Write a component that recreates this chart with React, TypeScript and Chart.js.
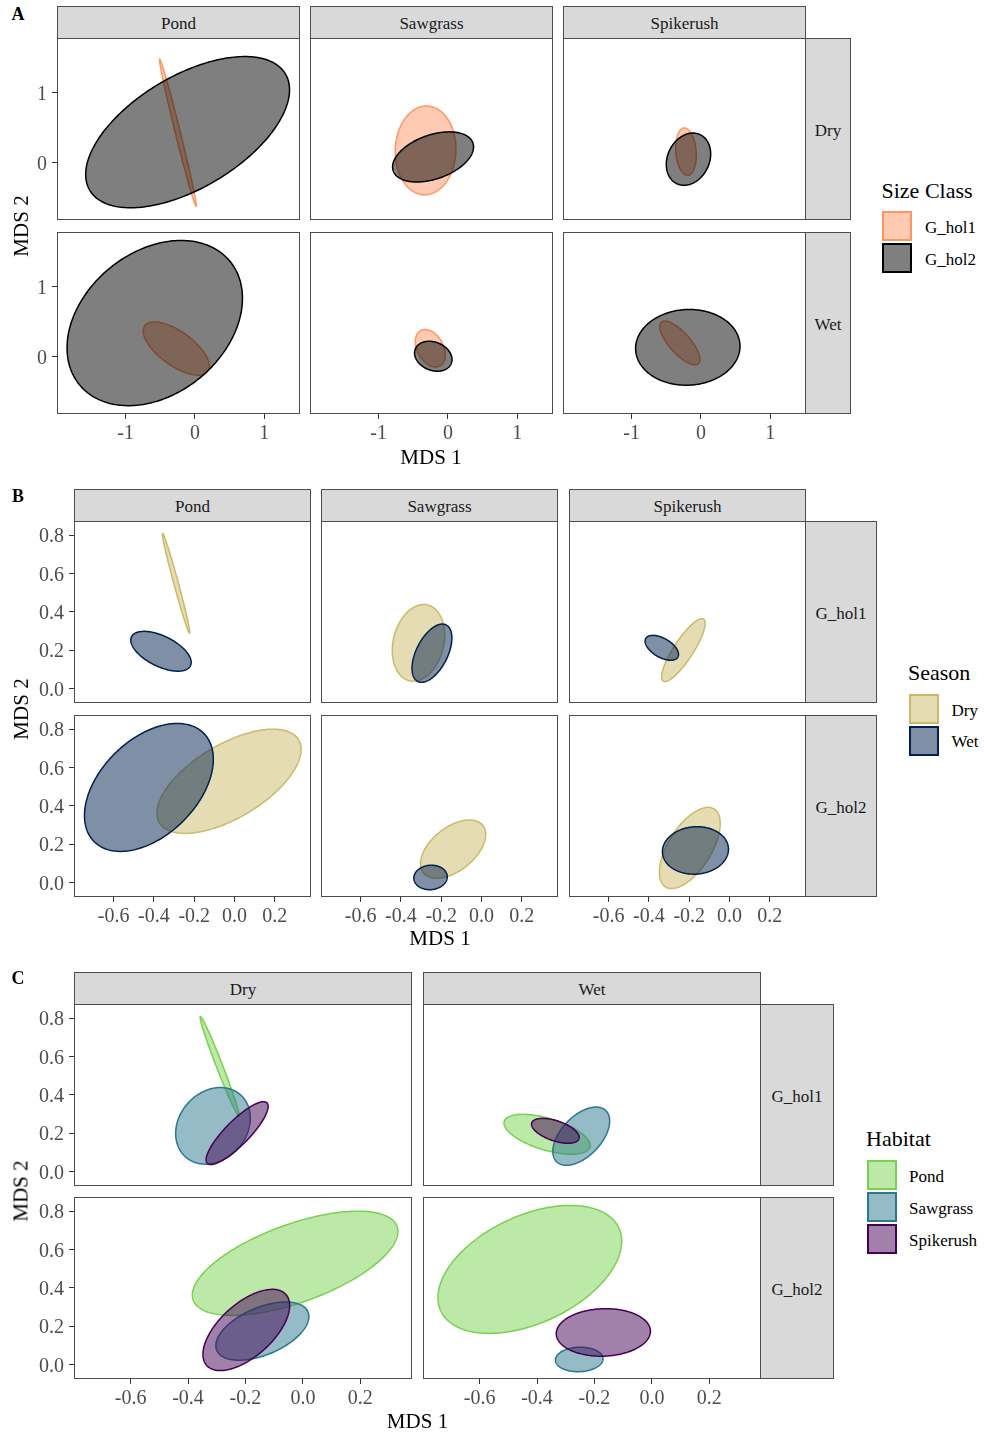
import React, { useEffect, useRef } from 'react';
import { Chart, registerables } from 'chart.js';

Chart.register(...registerables);

const FONT = '"Liberation Serif", "Times New Roman", Times, serif';

// ---------------- DATA ----------------
const SIZE_CLASSES = ['G_hol1', 'G_hol2'];
const SEASONS = ['Dry', 'Wet'];
const HABITATS = ['Pond', 'Sawgrass', 'Spikerush'];

// Panel A: ellipse per habitat / season / size class (centre, half-extent x/y, correlation)
const A_HABITAT = ['Pond', 'Pond', 'Pond', 'Pond', 'Sawgrass', 'Sawgrass', 'Sawgrass', 'Sawgrass', 'Spikerush', 'Spikerush', 'Spikerush', 'Spikerush'];
const A_SEASON = ['Dry', 'Dry', 'Wet', 'Wet', 'Dry', 'Dry', 'Wet', 'Wet', 'Dry', 'Dry', 'Wet', 'Wet'];
const A_SIZE = ['G_hol1', 'G_hol2', 'G_hol1', 'G_hol2', 'G_hol1', 'G_hol2', 'G_hol1', 'G_hol2', 'G_hol1', 'G_hol2', 'G_hol1', 'G_hol2'];
const A_CX = [-0.246, -0.106, -0.27, -0.58, -0.323, -0.215, -0.255, -0.212, -0.216, -0.18, -0.305, -0.19];
const A_CY = [0.43, 0.44, 0.12, 0.484, 0.179, 0.086, 0.124, 0.01, 0.161, 0.054, 0.2, 0.137];
const A_SX = [0.265, 1.47, 0.476, 1.265, 0.438, 0.584, 0.216, 0.27, 0.149, 0.32, 0.29, 0.753];
const A_SY = [1.05, 1.08, 0.38, 1.18, 0.634, 0.358, 0.267, 0.214, 0.339, 0.373, 0.313, 0.541];
const A_R = [-0.99, 0.56, -0.66, 0.3, 0.03, 0.4, -0.35, -0.22, -0.15, 0.2, -0.75, 0.03];

// Panels B and C share one ordination
const BC_HABITAT = ['Pond', 'Pond', 'Pond', 'Pond', 'Sawgrass', 'Sawgrass', 'Sawgrass', 'Sawgrass', 'Spikerush', 'Spikerush', 'Spikerush', 'Spikerush'];
const BC_SEASON = ['Dry', 'Dry', 'Wet', 'Wet', 'Dry', 'Dry', 'Wet', 'Wet', 'Dry', 'Dry', 'Wet', 'Wet'];
const BC_SIZE = ['G_hol1', 'G_hol2', 'G_hol1', 'G_hol2', 'G_hol1', 'G_hol2', 'G_hol1', 'G_hol2', 'G_hol1', 'G_hol2', 'G_hol1', 'G_hol2'];
const BC_CX = [-0.29, -0.027, -0.365, -0.425, -0.313, -0.141, -0.246, -0.253, -0.229, -0.197, -0.336, -0.169];
const BC_CY = [0.549, 0.528, 0.194, 0.496, 0.238, 0.174, 0.184, 0.026, 0.2, 0.18, 0.212, 0.167];
const BC_SX = [0.068, 0.358, 0.15, 0.32, 0.13, 0.162, 0.099, 0.083, 0.108, 0.151, 0.083, 0.164];
const BC_SY = [0.26, 0.272, 0.104, 0.334, 0.2, 0.152, 0.152, 0.064, 0.164, 0.212, 0.065, 0.124];
const BC_R = [-0.985, 0.61, -0.56, 0.44, 0.2, 0.5, 0.52, 0.05, 0.85, 0.6, -0.53, 0.05];

const A_X_TICKS = [-1, 0, 1];
const A_Y_TICKS = [0, 1];
const A_X_RANGE = [-1.99, 1.515];
const A_Y_RANGE = [-0.815, 1.785];
const BC_X_TICKS = [-0.6, -0.4, -0.2, 0.0, 0.2];
const BC_Y_TICKS = [0.0, 0.2, 0.4, 0.6, 0.8];
const BC_X_RANGE = [-0.797, 0.38];
const BC_Y_RANGE = [-0.076, 0.874];

// ---------------- STYLE ----------------
const SIZE_COLORS: Record<string, [number, number, number]> = { G_hol1: [253, 151, 101], G_hol2: [0, 0, 0] };
const SEASON_COLORS: Record<string, [number, number, number]> = { Dry: [203, 186, 105], Wet: [0, 32, 77] };
const HABITAT_COLORS: Record<string, [number, number, number]> = { Pond: [122, 209, 81], Sawgrass: [42, 120, 142], Spikerush: [68, 1, 84] };
const rgba = (c: number[], a: number) => `rgba(${c[0]},${c[1]},${c[2]},${a})`;

type Ell = { cx: number; cy: number; sx: number; sy: number; r: number; color: number[] };

const ellipsePlugin = {
  id: 'ellipses',
  afterDatasetsDraw(chart: any) {
    const { ctx, chartArea: a, scales } = chart;
    const xs = scales.x, ys = scales.y;
    ctx.save();
    ctx.beginPath();
    ctx.rect(a.left, a.top, a.right - a.left, a.bottom - a.top);
    ctx.clip();
    chart.data.datasets.forEach((ds: any) => {
      const e = ds.ellipse;
      if (!e) return;
      const k = Math.sqrt(1 - e.r * e.r);
      ctx.beginPath();
      const n = 240;
      for (let i = 0; i <= n; i++) {
        const t = (i / n) * Math.PI * 2;
        const vx = e.cx + e.sx * Math.cos(t);
        const vy = e.cy + e.sy * (e.r * Math.cos(t) + k * Math.sin(t));
        const px = xs.getPixelForValue(vx);
        const py = ys.getPixelForValue(vy);
        if (i === 0) ctx.moveTo(px, py);
        else ctx.lineTo(px, py);
      }
      ctx.closePath();
      ctx.fillStyle = rgba(e.color, 0.5);
      ctx.fill();
      ctx.lineWidth = 1.5;
      ctx.strokeStyle = rgba(e.color, 1);
      ctx.stroke();
    });
    ctx.restore();
    ctx.save();
    ctx.strokeStyle = '#4d4d4d';
    ctx.lineWidth = 1;
    ctx.strokeRect(a.left + 0.5, a.top + 0.5, a.right - a.left - 1, a.bottom - a.top - 1);
    ctx.restore();
  },
};

type PanelProps = {
  left: number; top: number; width: number; height: number;
  showX: boolean; showY: boolean; yAxisW: number; xAxisH: number;
  xRange: number[]; yRange: number[]; xTicks: number[]; yTicks: number[]; dec: number;
  ellipses: Ell[];
};

function PanelChart(p: PanelProps) {
  const ref = useRef<HTMLCanvasElement | null>(null);
  const cl = p.showY ? p.left - p.yAxisW : p.left;
  const cw = p.width + (p.showY ? p.yAxisW : 0);
  const ch = p.height + (p.showX ? p.xAxisH : 0);
  useEffect(() => {
    if (!ref.current) return;
    const tickFont = { family: FONT, size: 20 };
    const grid = { display: true, drawOnChartArea: false, drawTicks: true, tickLength: 5, tickColor: '#333333', color: '#333333', lineWidth: 1 };
    const chart = new Chart(ref.current, {
      type: 'scatter',
      data: {
        datasets: p.ellipses.map((e) => ({
          data: [{ x: e.cx, y: e.cy }],
          pointRadius: 0,
          ellipse: e,
        })) as any,
      },
      options: {
        responsive: false,
        maintainAspectRatio: false,
        animation: false,
        events: [],
        layout: { padding: 0 },
        plugins: { legend: { display: false }, tooltip: { enabled: false } },
        scales: {
          x: {
            type: 'linear',
            min: p.xRange[0],
            max: p.xRange[1],
            display: p.showX,
            afterBuildTicks: (s: any) => { s.ticks = p.xTicks.map((v) => ({ value: v })); },
            afterFit: (s: any) => {
              s.height = p.showX ? p.xAxisH : 0;
              s.paddingLeft = 0; s.paddingRight = 0; s.paddingTop = 0; s.paddingBottom = 0;
            },
            grid,
            border: { display: false },
            ticks: { font: tickFont, color: '#4D4D4D', padding: 3, maxRotation: 0, autoSkip: false, callback: (v: any) => Number(v).toFixed(p.dec) },
          },
          y: {
            type: 'linear',
            min: p.yRange[0],
            max: p.yRange[1],
            display: p.showY,
            afterBuildTicks: (s: any) => { s.ticks = p.yTicks.map((v) => ({ value: v })); },
            afterFit: (s: any) => {
              s.width = p.showY ? p.yAxisW : 0;
              s.paddingLeft = 0; s.paddingRight = 0; s.paddingTop = 0; s.paddingBottom = 0;
            },
            grid,
            border: { display: false },
            ticks: { font: tickFont, color: '#4D4D4D', padding: 5, labelOffset: 2, autoSkip: false, callback: (v: any) => Number(v).toFixed(p.dec) },
          },
        },
      } as any,
      plugins: [ellipsePlugin],
    });
    return () => chart.destroy();
  }, []);
  return (
    <canvas
      ref={ref}
      width={cw}
      height={ch}
      style={{ position: 'absolute', left: cl, top: p.top, width: cw, height: ch }}
    />
  );
}

function StripBox({ left, top, width, height, label, dy = 0 }: any) {
  return (
    <div
      style={{
        position: 'absolute', left, top, width, height, boxSizing: 'border-box',
        background: '#D9D9D9', border: '1px solid #4d4d4d',
        display: 'flex', alignItems: 'center', justifyContent: 'center',
        fontSize: 17, lineHeight: 1, color: '#1A1A1A', fontFamily: FONT,
      }}
    >
      <span style={{ position: 'relative', top: dy }}>{label}</span>
    </div>
  );
}

function Txt({ x, y, text, size, bold = false, rotate = false, anchor = 'middle', color = '#000' }: any) {
  const tx = anchor === 'middle' ? '-50%' : '0';
  return (
    <div
      style={{
        position: 'absolute', left: x, top: y, whiteSpace: 'nowrap',
        fontFamily: FONT, fontSize: size, lineHeight: 1, fontWeight: bold ? 'bold' : 'normal', color,
        transform: rotate ? 'translate(-50%, -50%) rotate(-90deg)' : `translate(${tx}, -50%)`,
      }}
    >
      {text}
    </div>
  );
}

type FacetProps = {
  colLefts: number[]; colW: number; rowTops: number[]; rowH: number; stripTop: number;
  rightX: number; rightW: number; colLabels: string[]; rowLabels: string[];
  cell: (c: number, r: number) => Ell[];
  xRange: number[]; yRange: number[]; xTicks: number[]; yTicks: number[]; dec: number; yAxisW: number;
};

function Facet(f: FacetProps) {
  const items: any[] = [];
  f.colLabels.forEach((lab, c) => {
    items.push(<StripBox key={'s' + c} left={f.colLefts[c]} top={f.stripTop} width={f.colW} height={f.rowTops[0] - f.stripTop + 1} label={lab} dy={1} />);
  });
  f.rowLabels.forEach((lab, r) => {
    items.push(<StripBox key={'r' + r} left={f.rightX} top={f.rowTops[r]} width={f.rightW} height={f.rowH} label={lab} dy={1.5} />);
  });
  f.rowLabels.forEach((_, r) => {
    f.colLabels.forEach((__, c) => {
      items.push(
        <PanelChart
          key={'p' + r + '-' + c}
          left={f.colLefts[c]} top={f.rowTops[r]} width={f.colW} height={f.rowH}
          showX={r === f.rowLabels.length - 1} showY={c === 0}
          yAxisW={f.yAxisW} xAxisH={36}
          xRange={f.xRange} yRange={f.yRange} xTicks={f.xTicks} yTicks={f.yTicks} dec={f.dec}
          ellipses={f.cell(c, r)}
        />
      );
    });
  });
  return <>{items}</>;
}

function pick(cx: number[], cy: number[], sx: number[], sy: number[], rr: number[],
  match: (i: number) => boolean, orderKey: string[], orderVals: string[], colors: Record<string, number[]>): Ell[] {
  const out: Ell[] = [];
  orderVals.forEach((v) => {
    for (let i = 0; i < cx.length; i++) {
      if (match(i) && orderKey[i] === v) out.push({ cx: cx[i], cy: cy[i], sx: sx[i], sy: sy[i], r: rr[i], color: colors[v] });
    }
  });
  return out;
}

function Swatch({ x, y, color }: any) {
  return (
    <div style={{
      position: 'absolute', left: x, top: y, width: 30, height: 30, boxSizing: 'border-box',
      background: rgba(color, 0.5), border: `2px solid ${rgba(color, 1)}`,
    }} />
  );
}

export default function App() {
  return (
    <div style={{ position: 'absolute', left: 0, top: 0, width: 984, height: 1434, background: '#fff', fontFamily: FONT, overflow: 'hidden' }}>
      {/* Panel A */}
      <Txt x={18} y={13.5} text="A" size={18} bold />
      <Facet
        colLefts={[57, 310, 563]} colW={243} rowTops={[38, 232]} rowH={182} stripTop={6}
        rightX={805} rightW={46} colLabels={HABITATS} rowLabels={SEASONS}
        cell={(c, r) => pick(A_CX, A_CY, A_SX, A_SY, A_R,
          (i) => A_HABITAT[i] === HABITATS[c] && A_SEASON[i] === SEASONS[r], A_SIZE, SIZE_CLASSES, SIZE_COLORS)}
        xRange={A_X_RANGE} yRange={A_Y_RANGE} xTicks={A_X_TICKS} yTicks={A_Y_TICKS} dec={0} yAxisW={57}
      />
      <Txt x={431} y={456.5} text="MDS 1" size={21} />
      <Txt x={20.5} y={225.5} text="MDS 2" size={21} rotate />
      <Txt x={881.5} y={190.5} text="Size Class" size={22} anchor="start" />
      {SIZE_CLASSES.map((s, i) => (
        <React.Fragment key={s}>
          <Swatch x={882} y={211 + i * 31.5} color={SIZE_COLORS[s]} />
          <Txt x={925} y={226.5 + i * 32} text={s} size={17} anchor="start" />
        </React.Fragment>
      ))}

      {/* Panel B */}
      <Txt x={18} y={496} text="B" size={18} bold />
      <Facet
        colLefts={[74, 321, 569]} colW={237} rowTops={[521, 715]} rowH={182} stripTop={489}
        rightX={805} rightW={72} colLabels={HABITATS} rowLabels={SIZE_CLASSES}
        cell={(c, r) => pick(BC_CX, BC_CY, BC_SX, BC_SY, BC_R,
          (i) => BC_HABITAT[i] === HABITATS[c] && BC_SIZE[i] === SIZE_CLASSES[r], BC_SEASON, SEASONS, SEASON_COLORS)}
        xRange={BC_X_RANGE} yRange={BC_Y_RANGE} xTicks={BC_X_TICKS} yTicks={BC_Y_TICKS} dec={1} yAxisW={74}
      />
      <Txt x={440} y={937.5} text="MDS 1" size={21} />
      <Txt x={20.5} y={709} text="MDS 2" size={21} rotate />
      <Txt x={908} y={672.5} text="Season" size={22} anchor="start" />
      {SEASONS.map((s, i) => (
        <React.Fragment key={s}>
          <Swatch x={909} y={693.5 + i * 32.3} color={SEASON_COLORS[s]} />
          <Txt x={951.5} y={709.5 + i * 31.5} text={s} size={17} anchor="start" />
        </React.Fragment>
      ))}

      {/* Panel C */}
      <Txt x={18} y={977.5} text="C" size={18} bold />
      <Facet
        colLefts={[74, 423]} colW={338} rowTops={[1004, 1197]} rowH={182} stripTop={972}
        rightX={760} rightW={74} colLabels={SEASONS} rowLabels={SIZE_CLASSES}
        cell={(c, r) => pick(BC_CX, BC_CY, BC_SX, BC_SY, BC_R,
          (i) => BC_SEASON[i] === SEASONS[c] && BC_SIZE[i] === SIZE_CLASSES[r], BC_HABITAT, HABITATS, HABITAT_COLORS)}
        xRange={BC_X_RANGE} yRange={BC_Y_RANGE} xTicks={BC_X_TICKS} yTicks={BC_Y_TICKS} dec={1} yAxisW={74}
      />
      <Txt x={417.5} y={1421} text="MDS 1" size={21} />
      <Txt x={20.5} y={1191} text="MDS 2" size={21} rotate />
      <Txt x={866} y={1139} text="Habitat" size={22} anchor="start" />
      {HABITATS.map((h, i) => (
        <React.Fragment key={h}>
          <Swatch x={866.5} y={1160 + i * 32.2} color={HABITAT_COLORS[h]} />
          <Txt x={909} y={1175.5 + i * 32.2} text={h} size={17} anchor="start" />
        </React.Fragment>
      ))}
    </div>
  );
}
